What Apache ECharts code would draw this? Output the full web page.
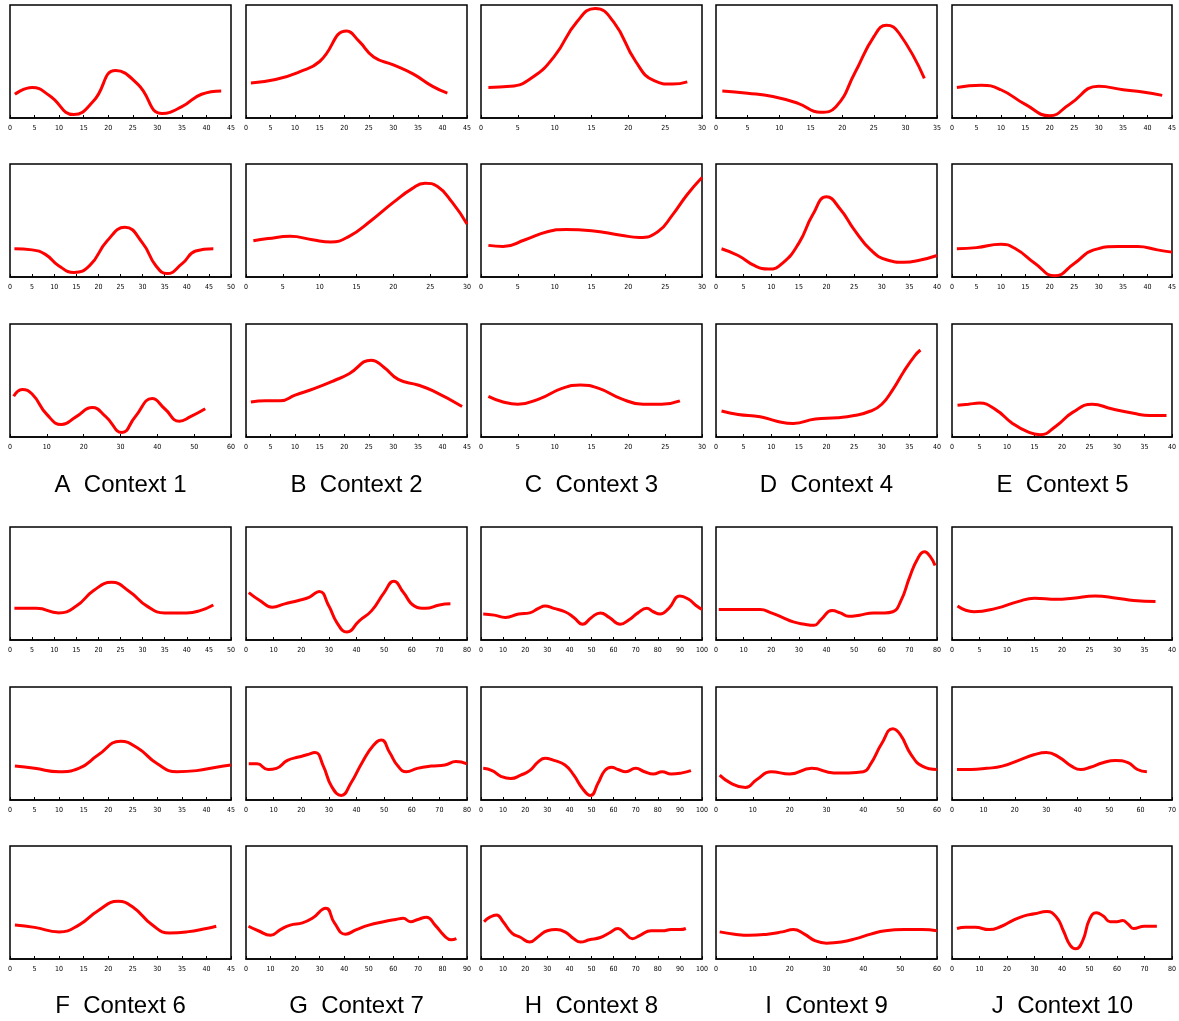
<!DOCTYPE html>
<html>
<head>
<meta charset="utf-8">
<script src="https://cdn.jsdelivr.net/npm/echarts@6/dist/echarts.min.js"></script>
<style>
  html, body { margin: 0; padding: 0; background: #fff; }
  #chart { width: 1179px; height: 1021px; }
</style>
</head>
<body>
<div id="chart"></div>
<script>
// panel letters and captions
const letters = ['A', 'B', 'C', 'D', 'E', 'F', 'G', 'H', 'I', 'J']
const captions = ['Context 1', 'Context 2', 'Context 3', 'Context 4', 'Context 5',
  'Context 6', 'Context 7', 'Context 8', 'Context 9', 'Context 10']

// x axis max for the 3 panels of each letter (top, middle, bottom)
const xMax = {
  A: [45, 50, 60], B: [45, 30, 45], C: [30, 30, 30], D: [35, 40, 40], E: [45, 45, 40],
  F: [50, 45, 45], G: [80, 80, 90], H: [100, 100, 100], I: [80, 60, 60], J: [40, 70, 80]
}

// curves: [x, relative height]
const A1 = [[1, 0.21], [4.5, 0.27], [8, 0.2], [13, 0.03], [17, 0.15], [21.5, 0.42], [26, 0.3], [31, 0.04], [35, 0.1], [39, 0.21], [43, 0.24]]
const A2 = [[1, 0.25], [5, 0.24], [8, 0.2], [11, 0.1], [14.5, 0.04], [18, 0.1], [22, 0.32], [26, 0.44], [30, 0.3], [33, 0.1], [35.5, 0.03], [39, 0.12], [42, 0.23], [46, 0.25]]
const A3 = [[1, 0.36], [3.3, 0.42], [6, 0.38], [10, 0.2], [14, 0.11], [18, 0.18], [22.3, 0.26], [26, 0.18], [30.4, 0.04], [34, 0.18], [38.6, 0.34], [42, 0.25], [46, 0.14], [49, 0.18], [53, 0.25]]
const B1 = [[1, 0.31], [6, 0.34], [11, 0.41], [15, 0.5], [20.5, 0.77], [23, 0.68], [26, 0.54], [30, 0.47], [34, 0.39], [38, 0.28], [41, 0.22]]
const B2 = [[1, 0.32], [3, 0.34], [6, 0.36], [9, 0.33], [11.5, 0.31], [14, 0.36], [17, 0.5], [20, 0.66], [22.5, 0.78], [24.3, 0.83], [26, 0.8], [28, 0.66], [30, 0.47]]
const B3 = [[1, 0.31], [4, 0.32], [7, 0.32], [10, 0.37], [14, 0.43], [18, 0.5], [21, 0.56], [25.5, 0.68], [28, 0.62], [31, 0.51], [35, 0.46], [38, 0.41], [44, 0.27]]
const C1 = [[1, 0.27], [4, 0.28], [7, 0.36], [10, 0.55], [13, 0.85], [15.5, 0.97], [18, 0.85], [21, 0.5], [23.5, 0.33], [26, 0.3], [28, 0.32]]
const C2 = [[1, 0.28], [3, 0.27], [6, 0.33], [9, 0.4], [11.5, 0.42], [15, 0.41], [19, 0.37], [21.5, 0.35], [24, 0.4], [26, 0.55], [28, 0.73], [30, 0.88]]
const C3 = [[1, 0.36], [3, 0.31], [5, 0.29], [8, 0.34], [11, 0.43], [13.5, 0.46], [16, 0.43], [19, 0.34], [22, 0.29], [24.5, 0.29], [27, 0.32]]
const D1 = [[1, 0.24], [5, 0.22], [9, 0.19], [13, 0.13], [16.5, 0.05], [19, 0.1], [22, 0.4], [25, 0.72], [27, 0.82], [29, 0.75], [33, 0.35]]
const D2 = [[1, 0.25], [4, 0.19], [7, 0.1], [9.5, 0.07], [12, 0.12], [15, 0.3], [17.5, 0.55], [20, 0.71], [22.5, 0.6], [25, 0.42], [28, 0.24], [31, 0.15], [34, 0.13], [37, 0.15], [40, 0.19]]
const D3 = [[1, 0.23], [4, 0.2], [8, 0.18], [11, 0.14], [14, 0.12], [18, 0.16], [22, 0.17], [25, 0.19], [28, 0.23], [30, 0.29], [32, 0.42], [34, 0.58], [36, 0.72], [37, 0.77]]
const E1 = [[1, 0.27], [6, 0.29], [10, 0.25], [15, 0.12], [20, 0.02], [24, 0.12], [30, 0.28], [35, 0.25], [39, 0.23], [43, 0.2]]
const E2 = [[1, 0.25], [5, 0.26], [10, 0.29], [13, 0.25], [17, 0.12], [21, 0.01], [25, 0.12], [29, 0.24], [34, 0.27], [38, 0.27], [42, 0.24], [45, 0.22]]
const E3 = [[1, 0.28], [3, 0.29], [5, 0.3], [8, 0.24], [11, 0.12], [14, 0.04], [16, 0.02], [19, 0.1], [22, 0.22], [25.5, 0.29], [29, 0.25], [33, 0.21], [36, 0.19], [39, 0.19]]
const F1 = [[1, 0.28], [6, 0.28], [11, 0.24], [15, 0.3], [19, 0.44], [23, 0.51], [27, 0.43], [31, 0.3], [35, 0.24], [40, 0.24], [43, 0.26], [46, 0.31]]
const F2 = [[1, 0.3], [5, 0.28], [10, 0.25], [14, 0.28], [18, 0.4], [22.5, 0.52], [26, 0.46], [30, 0.32], [34, 0.25], [38, 0.26], [42, 0.29], [45, 0.31]]
const F3 = [[1, 0.3], [5, 0.28], [10, 0.24], [14, 0.3], [18, 0.43], [22, 0.51], [25, 0.46], [29, 0.3], [32.5, 0.23], [36, 0.24], [40, 0.27], [42, 0.29]]
const G1 = [[1, 0.42], [5, 0.35], [9.5, 0.29], [14, 0.32], [19, 0.35], [23, 0.38], [26.5, 0.43], [30, 0.3], [33, 0.15], [36.5, 0.07], [41, 0.17], [45.5, 0.26], [50, 0.42], [53.5, 0.52], [57, 0.42], [61, 0.3], [65, 0.28], [70, 0.31], [74, 0.32]]
const G2 = [[1, 0.32], [4, 0.32], [8, 0.27], [11, 0.28], [15, 0.35], [19, 0.38], [22, 0.4], [25, 0.42], [28, 0.3], [31, 0.12], [34.5, 0.04], [38, 0.15], [42, 0.33], [46, 0.48], [49, 0.53], [52, 0.42], [55, 0.3], [58, 0.25], [62, 0.28], [67, 0.3], [72, 0.31], [76, 0.34], [80, 0.32]]
const G3 = [[1, 0.29], [5, 0.25], [10, 0.21], [14, 0.26], [18, 0.3], [23, 0.32], [27, 0.36], [32.5, 0.45], [36, 0.32], [40.5, 0.22], [45, 0.26], [50, 0.3], [56, 0.33], [61, 0.35], [64, 0.36], [67, 0.33], [70, 0.35], [73.5, 0.37], [77, 0.3], [81, 0.2], [83.5, 0.17], [85.7, 0.18]]
const H1 = [[1, 0.23], [6, 0.22], [11, 0.2], [17, 0.23], [22, 0.24], [26, 0.28], [29, 0.3], [33, 0.28], [38, 0.25], [42, 0.2], [46, 0.14], [50, 0.2], [54, 0.24], [58, 0.2], [63, 0.14], [67, 0.18], [71, 0.24], [75, 0.28], [78, 0.25], [81, 0.23], [85, 0.28], [90, 0.39], [94, 0.36], [97, 0.31], [100, 0.27]]
const H2 = [[1, 0.28], [5, 0.26], [9, 0.21], [13.5, 0.19], [18, 0.22], [22, 0.26], [26, 0.34], [29, 0.37], [33, 0.35], [38, 0.31], [42, 0.22], [46, 0.1], [49.5, 0.04], [53, 0.15], [56, 0.26], [59, 0.29], [62, 0.27], [65.5, 0.25], [70, 0.28], [74, 0.25], [78, 0.23], [82, 0.25], [86, 0.23], [91, 0.24], [95, 0.26]]
const H3 = [[1.4, 0.33], [4, 0.37], [7, 0.39], [10, 0.33], [14, 0.23], [18, 0.19], [22, 0.15], [26, 0.2], [30, 0.25], [34, 0.26], [38, 0.24], [42, 0.18], [45, 0.15], [49, 0.17], [54, 0.19], [58, 0.23], [62, 0.27], [65, 0.23], [68.5, 0.18], [72, 0.21], [77, 0.25], [82, 0.25], [86, 0.26], [90, 0.26], [92.7, 0.27]]
const I1 = [[1, 0.27], [8, 0.27], [16, 0.27], [20, 0.24], [24, 0.2], [28, 0.16], [32, 0.14], [35.5, 0.13], [38, 0.18], [42, 0.26], [45, 0.24], [48, 0.21], [52, 0.22], [57, 0.24], [61, 0.24], [64, 0.25], [67, 0.35], [70, 0.55], [73, 0.72], [75.5, 0.78], [77.5, 0.74], [79.3, 0.66]]
const I2 = [[1, 0.22], [4, 0.15], [8, 0.11], [11, 0.18], [15, 0.25], [20, 0.23], [26, 0.28], [32, 0.24], [36, 0.24], [40, 0.25], [42, 0.32], [45, 0.5], [48, 0.63], [50, 0.58], [53, 0.4], [56, 0.3], [60, 0.27]]
const I3 = [[1, 0.24], [5, 0.22], [9, 0.21], [14, 0.22], [18, 0.24], [21, 0.26], [24, 0.22], [27, 0.16], [30, 0.14], [34, 0.15], [38, 0.18], [42, 0.22], [46, 0.25], [51, 0.26], [56, 0.26], [60, 0.25]]
const J1 = [[1, 0.3], [4, 0.25], [8, 0.28], [12, 0.34], [15, 0.37], [19, 0.36], [22, 0.37], [26, 0.39], [30, 0.37], [33, 0.35], [37, 0.34]]
const J2 = [[1.6, 0.27], [6, 0.27], [11, 0.28], [16, 0.3], [22, 0.36], [26, 0.4], [30, 0.42], [34, 0.38], [38, 0.3], [41, 0.27], [44, 0.29], [48, 0.33], [52, 0.35], [56, 0.33], [59, 0.27], [62, 0.25]]
const J3 = [[1.8, 0.27], [5, 0.28], [8.5, 0.28], [13.5, 0.26], [18, 0.29], [22, 0.34], [26, 0.38], [30, 0.4], [34.5, 0.42], [38, 0.37], [40.5, 0.25], [43, 0.12], [45, 0.09], [47.5, 0.16], [50, 0.35], [52.5, 0.41], [55, 0.38], [57.5, 0.33], [60, 0.33], [62, 0.34], [64, 0.31], [66, 0.27], [70, 0.29], [74.5, 0.29]]

const curves = {
  A: [A1, A2, A3], B: [B1, B2, B3], C: [C1, C2, C3], D: [D1, D2, D3], E: [E1, E2, E3],
  F: [F1, F2, F3], G: [G1, G2, G3], H: [H1, H2, H3], I: [I1, I2, I3], J: [J1, J2, J3]
}

const colLeft = [10, 246, 481, 716, 952]
const rowTop = [[5, 164, 324], [527, 687, 846]]
const captionY = [485, 1006]
const panelW = 221
const panelH = 113

let grid = []
let xAxis = []
let yAxis = []
let series = []
let graphic = []

letters.forEach((letter, li) => {
  const group = li < 5 ? 0 : 1
  const col = li % 5
  for (let r = 0; r < 3; r++) {
    const idx = grid.length
    const max = xMax[letter][r]
    grid.push({
      left: colLeft[col],
      top: rowTop[group][r],
      width: panelW,
      height: panelH,
      show: true,
      borderColor: '#000',
      borderWidth: 1.5,
      backgroundColor: 'transparent'
    })
    xAxis.push({
      gridIndex: idx,
      type: 'value',
      min: 0,
      max: max,
      interval: max > 50 ? 10 : 5,
      axisLine: { show: true, onZero: false, lineStyle: { color: '#000', width: 1.5 } },
      axisTick: { show: true, inside: true, length: 3, lineStyle: { color: '#000', width: 1 } },
      axisLabel: {
        show: true,
        margin: 7,
        fontSize: 7,
        color: '#000',
        fontFamily: 'Liberation Sans Narrow, DejaVu Sans Condensed, sans-serif',
        showMinLabel: true,
        showMaxLabel: true,
        hideOverlap: false
      },
      splitLine: { show: false }
    })
    yAxis.push({
      gridIndex: idx,
      type: 'value',
      min: 0,
      max: 1,
      show: false,
      splitLine: { show: false }
    })
    series.push({
      type: 'line',
      xAxisIndex: idx,
      yAxisIndex: idx,
      data: curves[letter][r],
      smooth: 0.5,
      showSymbol: false,
      silent: true,
      lineStyle: { color: '#ff0000', width: 3 }
    })
  }
  graphic.push({
    type: 'text',
    x: colLeft[col] + panelW / 2,
    y: captionY[group],
    style: {
      text: letter + '  ' + captions[li],
      fontSize: 24,
      fontFamily: 'Liberation Sans, Arial, sans-serif',
      fill: '#000',
      align: 'center',
      verticalAlign: 'middle'
    }
  })
})

const chart = echarts.init(document.getElementById('chart'), null, { renderer: 'canvas' })
chart.setOption({
  backgroundColor: '#fff',
  animation: false,
  grid: grid,
  xAxis: xAxis,
  yAxis: yAxis,
  series: series,
  graphic: graphic
})
</script>
</body>
</html>
